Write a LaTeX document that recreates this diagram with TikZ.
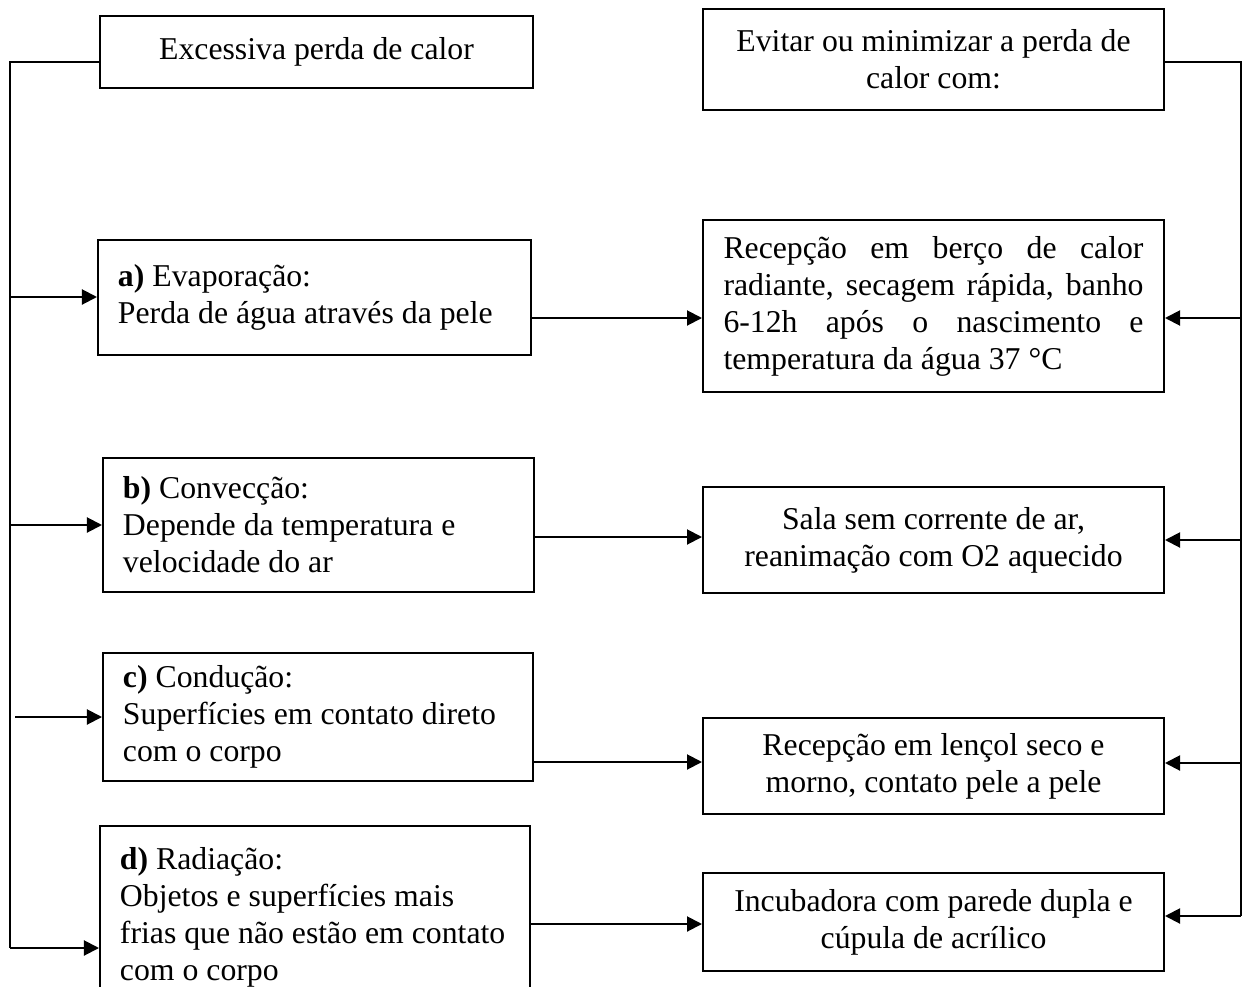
\documentclass[tikz,border=0pt]{standalone}
\usepackage{fontspec}
\setmainfont{Liberation Serif}
\usetikzlibrary{arrows.meta}
\newcommand\fsz{\fontsize{12.7pt}{14.8pt}\selectfont}
\newcommand\nsp{\spaceskip=0pt\xspaceskip=0pt\relax}
\tikzset{
  box/.style={draw, line width=0.8pt, inner sep=0pt, font=\fsz},
  lbox/.style={box, align=left, inner xsep=8pt},
  rbox/.style={box, align=center},
  ln/.style={line width=0.8pt},
  arr/.style={line width=0.8pt, -{Triangle[length=6pt,width=6pt]}},
}
\begin{document}
\begin{tikzpicture}[x=0.4pt, y=-0.4pt]
\useasboundingbox (0,0) rectangle (1248,987);
\fill[white] (0,0) rectangle (1248,987);
% left column
\node[box, minimum width=173.2pt, minimum height=28.8pt] (L0) at (316.5,52) {Excessiva perda de calor};
\node[lbox, text width=157.2pt, minimum height=46pt] (La) at (314.5,297)
  {\nsp\mbox{\textbf{a)} Evaporação:}\\\mbox{Perda de água através da pele}};
\node[lbox, text width=156.4pt, minimum height=53.6pt] (Lb) at (318.5,525)
  {\nsp\mbox{\textbf{b)} Convecção:}\\\mbox{Depende da temperatura e}\\\mbox{velocidade do ar}};
\node[lbox, text width=156pt, minimum height=51.2pt] (Lc) at (318,717)
  {\nsp\mbox{\textbf{c)} Condução:}\\\mbox{Superfícies em contato direto}\\\mbox{com o corpo}};
\node[lbox, text width=156pt, minimum height=73.2pt] (Ld) at (315,917)
  {\nsp\mbox{\textbf{d)} Radiação:}\\\mbox{Objetos e superfícies mais}\\\mbox{frias que não estão em contato}\\\mbox{com o corpo}};
% right column
\node[rbox, minimum width=184.4pt, minimum height=40.4pt] (R0) at (933.5,59.5)
  {Evitar ou minimizar a perda de\\calor com:};
\node[box, align=left, text width=168pt, minimum width=184.4pt, minimum height=68.8pt] (Ra) at (933.5,306)
  {\nsp\makebox[168pt][s]{Recepção em berço de calor}\\
   \makebox[168pt][s]{radiante, secagem rápida, banho}\\
   \makebox[168pt][s]{6-12h após o nascimento e}\\
   temperatura da água 37 °C};
\node[rbox, minimum width=184.4pt, minimum height=42.4pt] (Rb) at (933.5,540)
  {Sala sem corrente de ar,\\reanimação com O2 aquecido};
\node[rbox, minimum width=184.4pt, minimum height=38.4pt] (Rc) at (933.5,766)
  {Recepção em lençol seco e\\morno, contato pele a pele};
\node[rbox, minimum width=184.4pt, minimum height=39.2pt] (Rd) at (933.5,922)
  {Incubadora com parede dupla e\\cúpula de acrílico};
% helper coordinates
\coordinate (lt) at (10,62);
\coordinate (lb) at (10,948);
\coordinate (lc) at (15,717);
\coordinate (rt) at (1241,62);
\coordinate (rb) at (1241,916);
\coordinate (ya) at (1241,318);
\coordinate (yb) at (1241,540);
\coordinate (yc) at (1241,763);
\coordinate (ma) at (600,318);
\coordinate (mb) at (600,537);
\coordinate (mc) at (600,762);
\coordinate (md) at (600,924);
% left trunk
\draw[ln] (L0.west |- lt) -- (lt) -- (lb);
\draw[arr] (lb) -- (lb -| Ld.west);
\draw[arr] (La.west -| lt) -- (La.west);
\draw[arr] (Lb.west -| lt) -- (Lb.west);
\draw[arr] (lc) -- (lc -| Lc.west);
% right trunk
\draw[ln] (R0.east |- rt) -- (rt) -- (rb);
\draw[arr] (rb) -- (rb -| Rd.east);
\draw[arr] (ya) -- (ya -| Ra.east);
\draw[arr] (yb) -- (yb -| Rb.east);
\draw[arr] (yc) -- (yc -| Rc.east);
% middle connectors
\draw[arr] (La.east |- ma) -- (Ra.west |- ma);
\draw[arr] (Lb.east |- mb) -- (Rb.west |- mb);
\draw[arr] (Lc.east |- mc) -- (Rc.west |- mc);
\draw[arr] (Ld.east |- md) -- (Rd.west |- md);
\end{tikzpicture}
\end{document}
